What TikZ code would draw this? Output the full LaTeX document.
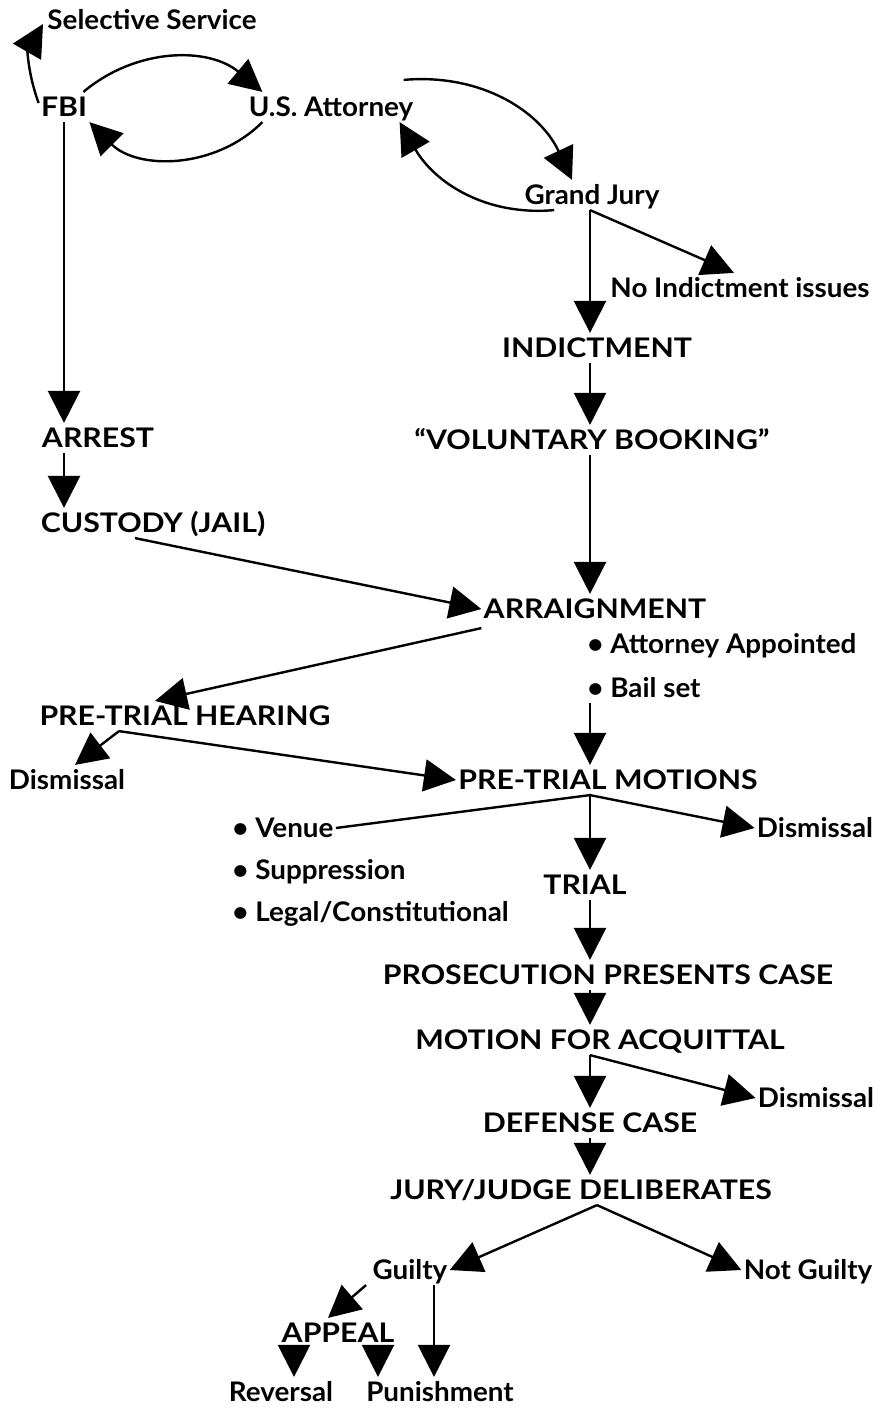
\documentclass[tikz,border=0pt]{standalone}
\usepackage{fontspec}
\setmainfont{Lato}
\newfontfamily\capsfont[FakeStretch=1.12, Ligatures=TeX]{Lato}
\newfontfamily\mixfont[FakeStretch=1.03, Ligatures=TeX]{Lato}
\usepackage{tikz}
\usetikzlibrary{arrows.meta, positioning}

\begin{document}
\begin{tikzpicture}[x=0.5pt, y=-0.5pt,
    every node/.style={font=\capsfont\bfseries\fontsize{13.5}{16}\selectfont, inner xsep=1pt, inner ysep=2.5pt, text height=9.7pt, text depth=0pt},
    mix/.style={font=\mixfont\bfseries\fontsize{13.5}{16}\selectfont},
    arr/.style={line width=1.2pt, -{Triangle[length=16pt, width=16pt]}},
    ln/.style={line width=1.2pt}]
    \useasboundingbox (0,0) rectangle (888,1408);

    % column guides
    \coordinate (lcol) at (64,0);
    \coordinate (mcol) at (590,0);

    % nodes
    \node[mix] (ss) at (152,20) {Selective Service};
    \node (fbi) at (64,107) {FBI};
    \node[mix] (usa) at (331,107) {U.S. Attorney};
    \node[mix] (gj) at (592,195) {Grand Jury};
    \node[mix] (noind) at (740,288) {No Indictment issues};
    \node (indict) at (597,348) {INDICTMENT};
    \node (vb) at (592,440) {“VOLUNTARY BOOKING”};
    \node (arrest) at (98,438) {ARREST};
    \node (custody) at (153,523) {CUSTODY (JAIL)};
    \node (arrn) at (595,609) {ARRAIGNMENT};
    \node[mix, anchor=west] (atty) at (585,644) {\textbullet\ Attorney Appointed};
    \node[mix, anchor=west] (bail) at (585,688) {\textbullet\ Bail set};
    \node (pth) at (185,716) {PRE-TRIAL HEARING};
    \node[mix] (dis1) at (67,780) {Dismissal};
    \node (ptm) at (608,780) {PRE-TRIAL MOTIONS};
    \node[mix, anchor=west] (venue) at (230,828) {\textbullet\ Venue};
    \node[mix, anchor=west] (supp) at (230,870) {\textbullet\ Suppression};
    \node[mix, anchor=west] (legal) at (230,912) {\textbullet\ Legal/Constitutional};
    \node[mix] (dis2) at (815,828) {Dismissal};
    \node (trial) at (585,885) {TRIAL};
    \node (pros) at (608,975) {PROSECUTION PRESENTS CASE};
    \node (mfa) at (600,1040) {MOTION FOR ACQUITTAL};
    \node[mix] (dis3) at (816,1098) {Dismissal};
    \node (defense) at (590,1123) {DEFENSE CASE};
    \node (jury) at (581,1190) {JURY/JUDGE DELIBERATES};
    \node[mix] (guilty) at (410,1270) {Guilty};
    \node[mix] (notg) at (808,1270) {Not Guilty};
    \node (appeal) at (338,1333) {APPEAL};
    \node[mix] (rev) at (281,1392) {Reversal};
    \node[mix] (pun) at (440,1392) {Punishment};

    % top loops
    \draw[arr] ([yshift=2pt]fbi.west) to[out=110, in=-120] ([xshift=-1pt, yshift=-2pt]ss.west);
    \draw[arr] ([xshift=-3pt]fbi.north east) to[bend left=40] ([xshift=8pt]usa.north west);
    \draw[arr] ([xshift=8pt]usa.south west) to[bend left=45] (fbi.south east);
    \draw[arr] ([xshift=-6pt, yshift=6pt]usa.north east) to[out=5, in=115] ([xshift=-10pt]gj.north);
    \draw[arr] ([xshift=16pt]gj.south west) to[out=185, in=-60] ([xshift=-8pt]usa.south east);

    % grand jury branch
    \draw[arr] (gj.south -| mcol) -- (indict.north -| mcol);
    \draw[arr] (gj.south -| mcol) -- ([xshift=-3pt]noind.north);
    \draw[arr] (indict.south -| mcol) -- (vb.north -| mcol);
    \draw[arr] (vb.south -| mcol) -- (arrn.north -| mcol);

    % arrest side
    \draw[arr] (fbi.south -| lcol) -- (arrest.north -| lcol);
    \draw[arr] (arrest.south -| lcol) -- (custody.north -| lcol);
    \draw[arr] ([xshift=-9pt]custody.south) -- (arrn.west);
    \draw[arr] ([yshift=-2pt]arrn.south west) -- ([xshift=-15pt]pth.north);

    % pre-trial
    \draw[arr] (bail.south -| mcol) -- (ptm.north -| mcol);
    \draw[arr] ([xshift=-33pt]pth.south) -- ([xshift=4pt]dis1.north);
    \draw[arr] ([xshift=-33pt]pth.south) -- (ptm.west);
    \draw[ln] (ptm.south -| mcol) -- (venue.east);
    \draw[arr] (ptm.south -| mcol) -- (dis2.west);
    \draw[arr] (ptm.south -| mcol) -- (trial.north -| mcol);

    % trial
    \draw[arr] (trial.south -| mcol) -- (pros.north -| mcol);
    \draw[arr] (pros.south -| mcol) -- (mfa.north -| mcol);
    \draw[arr] (mfa.south -| mcol) -- (defense.north -| mcol);
    \draw[arr] (mfa.south -| mcol) -- (dis3.west);
    \draw[arr] (defense.south -| mcol) -- (jury.north -| mcol);

    % verdict
    \draw[arr] ([xshift=8pt]jury.south) -- (guilty.east);
    \draw[arr] ([xshift=8pt]jury.south) -- (notg.west);
    \draw[arr] ([xshift=-22pt]guilty.south) -- ([xshift=-5pt]appeal.north);
    \draw[arr] ([xshift=12pt]guilty.south) -- ([xshift=12pt]guilty.south |- pun.north);
    \draw[arr] ([xshift=-22pt]appeal.south) -- ([xshift=-22pt]appeal.south |- pun.north);
    \draw[arr] ([xshift=20pt]appeal.south) -- ([xshift=20pt]appeal.south |- pun.north);
\end{tikzpicture}
\end{document}
